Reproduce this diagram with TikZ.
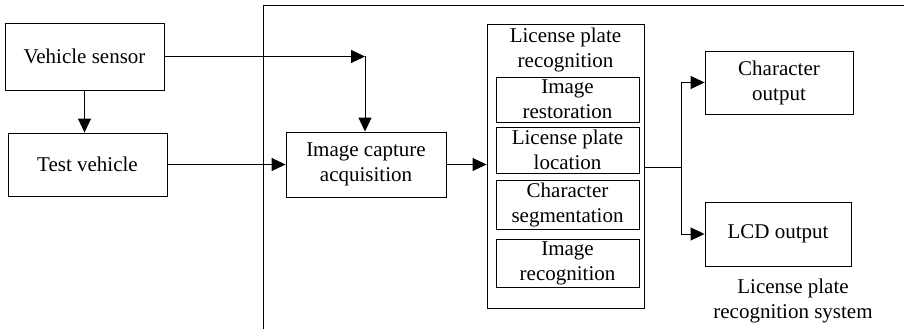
\documentclass[tikz,border=0pt]{standalone}
\usepackage{fontspec}
\setmainfont{Liberation Serif}
\usetikzlibrary{arrows.meta}
\tikzset{box/.style={draw, line width=0.9pt, align=center, inner sep=0pt},
arr/.style={line width=0.9pt, -{Triangle[length=14pt,width=13pt]}},
ln/.style={line width=0.9pt}}
\begin{document}
\begin{tikzpicture}[x=1pt,y=-1pt,font=\fontsize{21}{25}\selectfont]
\useasboundingbox (0,0) rectangle (904,329);
\draw[ln] (263,329)--(263,5)--(904,5);
\node[box, minimum width=159pt, minimum height=67pt] (sensor) at (84.5,56.5) {Vehicle sensor};
\node[box, minimum width=159pt, minimum height=63pt] (test) at (87.5,164.5) {Test vehicle};
\node[box, minimum width=160pt, minimum height=65pt] (capture) at (366,164.5) {Image capture\\acquisition};
\node[box, minimum width=157pt, minimum height=284pt] (lpr) at (565.5,166) {};
\node[align=center] (lprtitle) at (565.5,49.5) {License plate\\recognition};
\node[box, minimum width=143pt, minimum height=45pt] (restore) at (567.5,99.5) {Image\\restoration};
\node[box, minimum width=143pt, minimum height=46pt] (locate) at (567.5,150) {License plate\\location};
\node[box, minimum width=143pt, minimum height=49pt] (segment) at (567.5,204.5) {Character\\segmentation};
\node[box, minimum width=143pt, minimum height=48pt] (recog) at (567.5,263) {Image\\recognition};
\node[box, minimum width=148pt, minimum height=63pt] (charout) at (779,82.5) {Character\\output};
\node[box, minimum width=146pt, minimum height=64pt] (lcdout) at (778,234) {LCD output};
\node[align=center] (system) at (793,301) {License plate\\recognition system};
\coordinate (bend) at (365,56.5);
\coordinate (split) at (681,167);
\draw[arr] (sensor.south) -- (sensor.south |- test.north);
\draw[arr] (sensor.east) -- (bend);
\draw[arr] (bend) -- (bend |- capture.north);
\draw[arr] (test.east) -- (test.east -| capture.west);
\draw[arr] (capture.east) -- (capture.east -| lpr.west);
\draw[ln] (split -| lpr.east) -- (split);
\draw[arr] (split) |- (charout.west);
\draw[arr] (split) |- (lcdout.west);
\end{tikzpicture}
\end{document}
